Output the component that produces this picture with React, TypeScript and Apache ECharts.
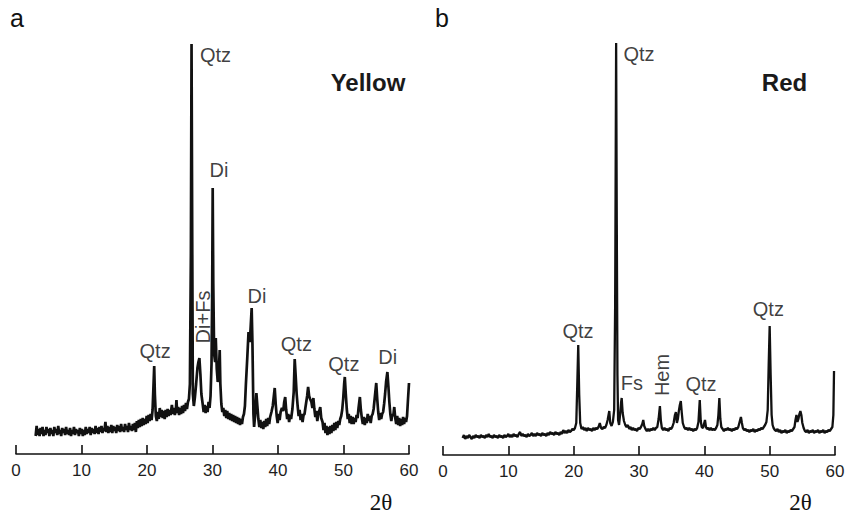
import React, { useEffect, useRef } from "react";
import * as echarts from "echarts";

// 2θ ticks
const thetaTicks = [0, 10, 20, 30, 40, 50, 60];

// Panel a — Yellow pigment diffractogram: [2θ, intensity]
const yellowPattern: [number, number][] = [
  [3.0, 18], [3.15, 28], [3.3, 19], [3.45, 25], [3.6, 18], [3.75, 26], [3.9, 20], [4.05, 27], [4.2, 18], [4.35, 24],
  [4.5, 19], [4.65, 27], [4.8, 21], [4.95, 25], [5.1, 18], [5.25, 26], [5.4, 20], [5.55, 24], [5.7, 18], [5.85, 27],
  [6.0, 21], [6.15, 25], [6.3, 19], [6.45, 28], [6.6, 20], [6.75, 24], [6.9, 18], [7.05, 26], [7.2, 21], [7.35, 25],
  [7.5, 19], [7.65, 27], [7.8, 20], [7.95, 24], [8.1, 19], [8.25, 26], [8.4, 18], [8.55, 24], [8.7, 20], [8.85, 27],
  [9.0, 19], [9.15, 25], [9.3, 21], [9.45, 24], [9.6, 18], [9.75, 26], [9.9, 20], [10.05, 25], [10.2, 18], [10.35, 24],
  [10.5, 19], [10.65, 27], [10.8, 20], [10.95, 25], [11.1, 21], [11.25, 27], [11.4, 19], [11.55, 26], [11.7, 21], [11.85, 25],
  [12.0, 20], [12.15, 28], [12.3, 21], [12.45, 26], [12.6, 20], [12.75, 27], [12.9, 22], [13.05, 28], [13.2, 21], [13.35, 26],
  [13.5, 23], [13.65, 32], [13.8, 22], [13.95, 28], [14.1, 21], [14.25, 27], [14.4, 22], [14.55, 29], [14.7, 21], [14.85, 28],
  [15.0, 23], [15.15, 27], [15.3, 21], [15.45, 29], [15.6, 23], [15.75, 28], [15.9, 22], [16.05, 30], [16.2, 23], [16.35, 27],
  [16.5, 22], [16.65, 30], [16.8, 24], [16.95, 28], [17.1, 22], [17.25, 31], [17.4, 24], [17.55, 28], [17.7, 23], [17.85, 30],
  [18.0, 24], [18.15, 31], [18.3, 22], [18.45, 33], [18.6, 26], [18.75, 34], [18.9, 27], [19.05, 35], [19.2, 28], [19.35, 36],
  [19.5, 29], [19.65, 35], [19.8, 30], [19.95, 38], [20.1, 31], [20.25, 39], [20.4, 33], [20.55, 40], [20.7, 34], [20.85, 44],
  [21.0, 70], [21.1, 88], [21.2, 60], [21.35, 38], [21.5, 33], [21.65, 42], [21.8, 35], [21.95, 46], [22.1, 37], [22.25, 44],
  [22.4, 36], [22.55, 43], [22.7, 35], [22.85, 44], [23.0, 37], [23.15, 45], [23.3, 38], [23.45, 44], [23.6, 39], [23.8, 49],
  [23.95, 40], [24.1, 46], [24.25, 39], [24.4, 44], [24.5, 54], [24.6, 41], [24.75, 47], [24.9, 39], [25.05, 46], [25.2, 40],
  [25.35, 48], [25.5, 41], [25.65, 49], [25.8, 43], [25.95, 51], [26.1, 45], [26.25, 52], [26.4, 55], [26.55, 70], [26.7, 200],
  [26.8, 410], [26.9, 220], [27.0, 60], [27.15, 48], [27.3, 56], [27.5, 70], [27.7, 86], [27.85, 92], [28.0, 96], [28.15, 80],
  [28.3, 60], [28.5, 50], [28.65, 42], [28.8, 49], [28.95, 41], [29.1, 48], [29.25, 42], [29.4, 52], [29.55, 46], [29.7, 58],
  [29.85, 90], [29.95, 160], [30.03, 266], [30.12, 170], [30.25, 100], [30.4, 92], [30.5, 116], [30.65, 85], [30.8, 72], [30.95, 80],
  [31.1, 104], [31.2, 70], [31.35, 50], [31.5, 42], [31.65, 46], [31.8, 38], [31.95, 44], [32.1, 36], [32.25, 43], [32.4, 35],
  [32.55, 41], [32.7, 34], [32.85, 40], [33.0, 33], [33.15, 39], [33.3, 32], [33.45, 38], [33.6, 31], [33.75, 37], [33.9, 30],
  [34.05, 36], [34.2, 29], [34.35, 35], [34.5, 30], [34.65, 37], [34.8, 40], [34.95, 48], [35.1, 70], [35.3, 95], [35.5, 122],
  [35.7, 112], [35.85, 130], [35.98, 146], [36.1, 110], [36.25, 40], [36.35, 27], [36.5, 38], [36.7, 61], [36.85, 48], [37.0, 35],
  [37.15, 27], [37.3, 34], [37.45, 26], [37.6, 32], [37.75, 25], [37.9, 33], [38.05, 27], [38.2, 35], [38.35, 28], [38.5, 36],
  [38.65, 30], [38.8, 37], [39.0, 42], [39.2, 48], [39.4, 60], [39.5, 66], [39.65, 50], [39.8, 38], [39.95, 31], [40.1, 40],
  [40.25, 34], [40.4, 42], [40.6, 46], [40.8, 43], [40.95, 52], [41.1, 57], [41.25, 44], [41.4, 35], [41.55, 40], [41.7, 32],
  [41.85, 39], [42.0, 35], [42.2, 45], [42.4, 62], [42.55, 95], [42.7, 78], [42.85, 60], [43.0, 48], [43.15, 38], [43.3, 44],
  [43.45, 34], [43.6, 40], [43.75, 32], [43.9, 39], [44.05, 40], [44.2, 47], [44.45, 58], [44.6, 67], [44.75, 58], [44.9, 55],
  [45.1, 52], [45.25, 46], [45.4, 56], [45.55, 45], [45.7, 37], [45.85, 43], [46.0, 33], [46.15, 40], [46.3, 43], [46.45, 47],
  [46.6, 36], [46.8, 32], [46.95, 24], [47.1, 31], [47.25, 21], [47.4, 28], [47.55, 19], [47.7, 27], [47.85, 20], [48.0, 28],
  [48.15, 21], [48.3, 29], [48.45, 23], [48.6, 31], [48.75, 24], [48.9, 32], [49.05, 26], [49.2, 33], [49.35, 29], [49.5, 35],
  [49.65, 38], [49.8, 44], [49.95, 55], [50.1, 70], [50.2, 77], [50.35, 60], [50.5, 45], [50.65, 35], [50.8, 40], [50.95, 31],
  [51.1, 38], [51.25, 30], [51.4, 37], [51.55, 30], [51.7, 36], [51.85, 32], [52.0, 39], [52.15, 36], [52.3, 46], [52.5, 57],
  [52.65, 44], [52.8, 36], [52.95, 30], [53.1, 37], [53.25, 29], [53.4, 36], [53.55, 31], [53.7, 40], [53.85, 33], [54.0, 38],
  [54.15, 31], [54.3, 38], [54.45, 40], [54.6, 45], [54.8, 58], [55.0, 71], [55.15, 55], [55.3, 42], [55.45, 34], [55.6, 41],
  [55.75, 35], [55.9, 40], [56.05, 42], [56.2, 50], [56.35, 60], [56.5, 72], [56.7, 82], [56.85, 68], [57.0, 52], [57.15, 40],
  [57.3, 33], [57.45, 40], [57.6, 38], [57.75, 47], [57.9, 36], [58.05, 30], [58.2, 38], [58.35, 29], [58.5, 36], [58.65, 28],
  [58.8, 35], [58.95, 29], [59.1, 37], [59.25, 30], [59.4, 36], [59.55, 32], [59.7, 38], [59.85, 55], [60.0, 71],
];

// Panel b — Red pigment diffractogram: [2θ, intensity]
const redPattern: [number, number][] = [
  [3.0, 17], [3.2, 20], [3.4, 16], [3.6, 19], [3.8, 17], [4.0, 20], [4.2, 18], [4.4, 16], [4.6, 19], [4.8, 17],
  [5.0, 20], [5.2, 18], [5.4, 19], [5.6, 17], [5.8, 20], [6.0, 18], [6.2, 19], [6.4, 17], [6.6, 20], [6.8, 18],
  [7.0, 21], [7.2, 18], [7.4, 19], [7.6, 17], [7.8, 20], [8.0, 18], [8.2, 19], [8.4, 17], [8.6, 20], [8.8, 18],
  [9.0, 19], [9.2, 17], [9.4, 20], [9.6, 18], [9.8, 19], [10.0, 21], [10.2, 18], [10.4, 20], [10.6, 18], [10.8, 21],
  [11.0, 19], [11.2, 20], [11.4, 18], [11.6, 21], [11.8, 23], [12.0, 19], [12.2, 21], [12.4, 19], [12.6, 20], [12.8, 18],
  [13.0, 21], [13.2, 19], [13.4, 20], [13.6, 22], [13.8, 19], [14.0, 21], [14.2, 19], [14.4, 22], [14.6, 20], [14.8, 21],
  [15.0, 19], [15.2, 22], [15.4, 20], [15.6, 21], [15.8, 19], [16.0, 22], [16.2, 20], [16.4, 23], [16.6, 21], [16.8, 22],
  [17.0, 20], [17.2, 23], [17.4, 21], [17.6, 22], [17.8, 20], [18.0, 23], [18.2, 21], [18.4, 25], [18.6, 22], [18.8, 24],
  [19.0, 22], [19.2, 25], [19.4, 23], [19.6, 24], [19.8, 26], [20.0, 25], [20.2, 27], [20.4, 32], [20.55, 70], [20.7, 110],
  [20.85, 60], [21.0, 32], [21.2, 26], [21.4, 28], [21.6, 25], [21.8, 27], [22.0, 24], [22.2, 27], [22.4, 25], [22.6, 26],
  [22.8, 24], [23.0, 27], [23.2, 25], [23.4, 27], [23.6, 26], [23.8, 28], [24.0, 32], [24.2, 27], [24.4, 26], [24.6, 28],
  [24.8, 27], [25.0, 30], [25.2, 35], [25.45, 44], [25.6, 32], [25.8, 29], [26.0, 33], [26.2, 45], [26.35, 150], [26.5, 412],
  [26.6, 230], [26.7, 80], [26.8, 35], [26.95, 30], [27.1, 40], [27.25, 52], [27.35, 57], [27.5, 42], [27.7, 34], [27.9, 30],
  [28.1, 28], [28.3, 30], [28.5, 26], [28.7, 28], [28.9, 25], [29.1, 27], [29.3, 25], [29.5, 26], [29.7, 24], [29.9, 27],
  [30.1, 26], [30.3, 28], [30.5, 31], [30.65, 35], [30.8, 29], [31.0, 26], [31.2, 24], [31.4, 26], [31.6, 24], [31.8, 26],
  [32.0, 25], [32.2, 27], [32.4, 25], [32.6, 27], [32.8, 28], [33.0, 36], [33.2, 49], [33.35, 34], [33.5, 27], [33.7, 25],
  [33.9, 27], [34.1, 25], [34.3, 26], [34.5, 24], [34.7, 27], [34.9, 26], [35.1, 28], [35.3, 32], [35.5, 40], [35.65, 43],
  [35.8, 32], [35.95, 36], [36.1, 44], [36.25, 50], [36.4, 54], [36.55, 42], [36.7, 32], [36.9, 28], [37.1, 26], [37.3, 27],
  [37.5, 25], [37.7, 27], [37.9, 25], [38.1, 26], [38.3, 24], [38.5, 26], [38.7, 25], [38.9, 27], [39.1, 33], [39.3, 55],
  [39.45, 34], [39.6, 28], [39.8, 27], [39.95, 31], [40.1, 35], [40.25, 28], [40.4, 26], [40.6, 27], [40.8, 25], [41.0, 27],
  [41.2, 25], [41.4, 26], [41.6, 25], [41.8, 27], [42.0, 30], [42.15, 40], [42.3, 57], [42.45, 36], [42.6, 28], [42.8, 26],
  [43.0, 24], [43.2, 26], [43.4, 25], [43.6, 27], [43.8, 25], [44.0, 26], [44.2, 24], [44.4, 26], [44.6, 25], [44.8, 27],
  [45.0, 26], [45.2, 28], [45.4, 33], [45.6, 38], [45.75, 32], [45.9, 27], [46.1, 25], [46.3, 26], [46.5, 24], [46.7, 25],
  [46.9, 23], [47.1, 25], [47.3, 24], [47.5, 26], [47.7, 23], [47.9, 25], [48.1, 24], [48.3, 26], [48.5, 25], [48.7, 27],
  [48.9, 26], [49.1, 28], [49.3, 30], [49.5, 33], [49.7, 45], [49.85, 90], [50.0, 129], [50.15, 80], [50.3, 40], [50.45, 30],
  [50.6, 27], [50.8, 25], [51.0, 24], [51.2, 26], [51.4, 23], [51.6, 25], [51.8, 22], [52.0, 24], [52.2, 23], [52.4, 25],
  [52.6, 22], [52.8, 24], [53.0, 23], [53.2, 25], [53.4, 24], [53.6, 26], [53.8, 28], [53.95, 35], [54.1, 40], [54.25, 33],
  [54.4, 36], [54.55, 41], [54.7, 44], [54.85, 40], [55.0, 32], [55.2, 27], [55.4, 24], [55.6, 23], [55.8, 25], [56.0, 22],
  [56.2, 24], [56.4, 23], [56.6, 25], [56.8, 22], [57.0, 24], [57.2, 23], [57.4, 25], [57.6, 22], [57.8, 24], [58.0, 23],
  [58.2, 25], [58.4, 22], [58.6, 24], [58.8, 23], [59.0, 25], [59.2, 24], [59.4, 26], [59.6, 28], [59.75, 40], [59.85, 84],
];

// Phase annotations: [2θ, intensity, text, rotated]
const yellowPhases: [number, number, string, boolean][] = [
  [30.46, 399, "Qtz", false],
  [31.0, 284, "Di", false],
  [28.56, 137, "Di+Fs", true],
  [36.79, 158, "Di", false],
  [21.24, 103, "Qtz", false],
  [42.8, 110, "Qtz", false],
  [50.05, 90, "Qtz", false],
  [56.76, 97, "Di", false],
];
const redPhases: [number, number, string, boolean][] = [
  [30.0, 401, "Qtz", false],
  [20.66, 124, "Qtz", false],
  [28.9, 72, "Fs", false],
  [33.5, 80, "Hem", true],
  [39.5, 71, "Qtz", false],
  [49.8, 146, "Qtz", false],
];

const panelLetters = ["a", "b"];
const panelTitles = ["Yellow", "Red"];
const axisName = "2θ";

const FONT = "'Liberation Sans', Arial, Helvetica, sans-serif";
const INK = "#111111";

export default function App() {
  const ref = useRef<HTMLDivElement>(null);

  useEffect(() => {
    if (!ref.current) return;
    const chart = echarts.init(ref.current, undefined, { renderer: "svg" });

    const xAxisBase = (gridIndex: number) => ({
      type: "value" as const,
      gridIndex,
      min: 0,
      max: 60,
      interval: 10,
      axisLine: { show: true, lineStyle: { color: INK, width: 1.6 } },
      axisTick: { show: true, inside: true, length: 9, lineStyle: { color: INK, width: 1.6 } },
      axisLabel: {
        color: "#1e1e1e",
        fontSize: 17,
        fontFamily: FONT,
        margin: 8,
        formatter: (v: number) => (thetaTicks.includes(v) ? String(v) : ""),
      },
      splitLine: { show: false },
    });

    const yAxisBase = (gridIndex: number, max: number) => ({
      type: "value" as const,
      gridIndex,
      min: 0,
      max,
      show: false,
    });

    const labelStyle = {
      show: true,
      position: [0, 0],
      align: "center",
      verticalAlign: "middle",
      color: "#0d0d0d",
      fontSize: 20,
      fontFamily: FONT,
      textBorderWidth: 0,
    };

    const labelSeries = (idx: number, phases: [number, number, string, boolean][]) => ({
      type: "scatter" as const,
      xAxisIndex: idx,
      yAxisIndex: idx,
      symbolSize: 0,
      silent: true,
      z: 5,
      data: phases.map((p) => ({
        value: [p[0], p[1]],
        name: p[2],
        label: { ...labelStyle, formatter: p[2], rotate: p[3] ? 90 : 0 },
      })),
      label: labelStyle,
    });

    const option = {
      animation: false,
      backgroundColor: "#ffffff",
      grid: [
        { left: 16, right: 439, top: 43, bottom: 62 },
        { left: 443, right: 13, top: 43, bottom: 61 },
      ],
      xAxis: [xAxisBase(0), xAxisBase(1)],
      yAxis: [yAxisBase(0, 411), yAxisBase(1, 412)],
      series: [
        {
          type: "line",
          xAxisIndex: 0,
          yAxisIndex: 0,
          data: yellowPattern,
          showSymbol: false,
          symbol: "none",
          lineStyle: { color: INK, width: 2.7 },
          silent: true,
        },
        {
          type: "line",
          xAxisIndex: 1,
          yAxisIndex: 1,
          data: redPattern,
          showSymbol: false,
          symbol: "none",
          lineStyle: { color: INK, width: 2.3 },
          silent: true,
        },
        labelSeries(0, yellowPhases),
        labelSeries(1, redPhases),
      ],
      graphic: [
        {
          type: "text",
          left: 10,
          top: 5,
          style: { text: panelLetters[0], font: `25px ${FONT}`, fill: INK },
        },
        {
          type: "text",
          left: 435,
          top: 5,
          style: { text: panelLetters[1], font: `25px ${FONT}`, fill: INK },
        },
        {
          type: "text",
          x: 368,
          y: 82,
          style: {
            text: panelTitles[0],
            font: `bold 24px ${FONT}`,
            fill: "#1a1a1a",
            textAlign: "center",
            textVerticalAlign: "middle",
          },
        },
        {
          type: "text",
          x: 784.5,
          y: 82,
          style: {
            text: panelTitles[1],
            font: `bold 24px ${FONT}`,
            fill: "#1a1a1a",
            textAlign: "center",
            textVerticalAlign: "middle",
          },
        },
        {
          type: "text",
          x: 381,
          y: 502,
          style: {
            text: axisName,
            font: `23px 'Liberation Serif', 'DejaVu Serif', serif`,
            fill: INK,
            textAlign: "center",
            textVerticalAlign: "middle",
          },
        },
        {
          type: "text",
          x: 800.5,
          y: 502,
          style: {
            text: axisName,
            font: `23px 'Liberation Serif', 'DejaVu Serif', serif`,
            fill: INK,
            textAlign: "center",
            textVerticalAlign: "middle",
          },
        },
      ],
    };

    chart.setOption(option as any);
    return () => chart.dispose();
  }, []);

  return <div ref={ref} style={{ width: 848, height: 516, position: "absolute", left: 0, top: 0 }} />;
}
